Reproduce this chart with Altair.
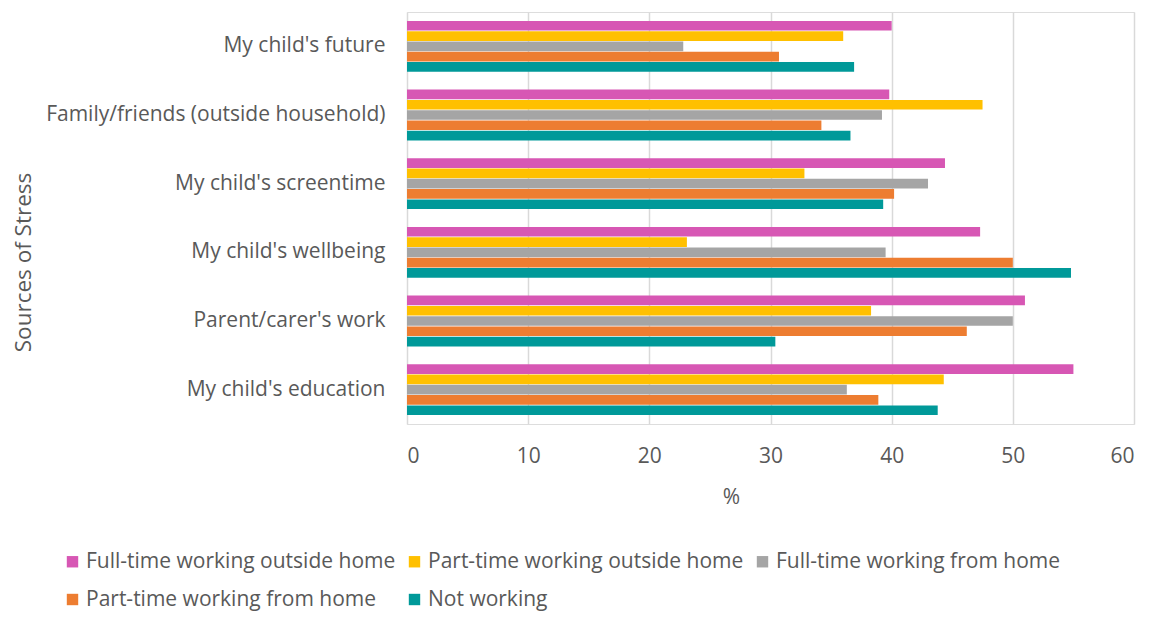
import altair as alt
import pandas as pd

categories = [
    "My child's future",
    "Family/friends (outside household)",
    "My child's screentime",
    "My child's wellbeing",
    "Parent/carer's work",
    "My child's education",
]
series = [
    "Full-time working outside home",
    "Part-time working outside home",
    "Full-time working from home",
    "Part-time working from home",
    "Not working",
]
ft_outside = [40.0, 39.8, 44.4, 47.3, 51.0, 55.0]
pt_outside = [36.0, 47.5, 32.8, 23.1, 38.3, 44.3]
ft_home = [22.8, 39.2, 43.0, 39.5, 50.0, 36.3]
pt_home = [30.7, 34.2, 40.2, 50.0, 46.2, 38.9]
not_working = [36.9, 36.6, 39.3, 54.8, 30.4, 43.8]
colors = ["#D757B4", "#FFC000", "#A5A5A5", "#ED7D31", "#009999"]

values = [ft_outside, pt_outside, ft_home, pt_home, not_working]
rows = []
for s, vals in zip(series, values):
    for c, v in zip(categories, vals):
        rows.append({"Source": c, "Group": s, "Value": v})
df = pd.DataFrame(rows)

FONT = "Open Sans"
TXT = "#595959"

chart = (
    alt.Chart(df)
    .mark_bar()
    .encode(
        y=alt.Y(
            "Source:N",
            sort=categories,
            scale=alt.Scale(paddingInner=0.26, paddingOuter=0.13),
            axis=alt.Axis(
                title="Sources of Stress",
                domain=False,
                ticks=False,
                labelPadding=22,
                labelFontSize=21,
                labelColor=TXT,
                labelFont=FONT,
                labelLimit=400,
                titleFont=FONT,
                titleFontSize=22.5,
                titleFontWeight="normal",
                titleColor=TXT,
                titleX=-384,
                titleY=250,
                titleAlign="center",
                titleBaseline="middle",
                titleAngle=270,
            ),
        ),
        yOffset=alt.YOffset(
            "Group:N", sort=series, scale=alt.Scale(paddingInner=0.06, paddingOuter=0)
        ),
        x=alt.X(
            "Value:Q",
            scale=alt.Scale(domain=[0, 60], nice=False),
            axis=alt.Axis(
                title="%",
                values=[0, 10, 20, 30, 40, 50, 60],
                domain=False,
                ticks=False,
                grid=True,
                gridColor="#D9D9D9",
                gridWidth=1.5,
                labelPadding=21,
                labelFontSize=21,
                labelColor=TXT,
                labelFont=FONT,
                titleFont=FONT,
                titleFontSize=21,
                titleFontWeight="normal",
                titleColor=TXT,
                titleX=324,
                titleY=73,
                titleAlign="center",
                titleBaseline="middle",
            ),
        ),
        color=alt.Color(
            "Group:N",
            sort=series,
            scale=alt.Scale(domain=series, range=colors),
            legend=alt.Legend(
                title=None,
                orient="none",
                legendX=-345,
                legendY=539,
                direction="horizontal",
                columns=3,
                columnPadding=8,
                rowPadding=16,
                symbolType="square",
                symbolSize=130,
                symbolStrokeWidth=0,
                labelFont=FONT,
                labelFontSize=21,
                labelColor=TXT,
                labelOffset=3,
                labelLimit=400,
            ),
        ),
    )
    .properties(
        width=727,
        height=412,
        autosize=alt.AutoSizeParams(type="none"),
        padding={"left": 399, "top": 4, "right": 12, "bottom": 189},
    )
    .configure_view(stroke=None)
    .configure(background="white")
)

chart.save("out.html", embed_options={"renderer": "svg", "actions": False})
